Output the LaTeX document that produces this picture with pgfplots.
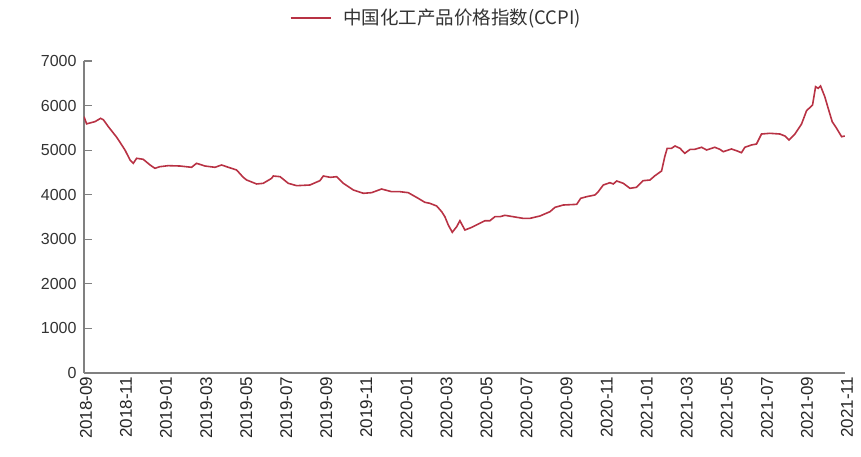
\documentclass[border=0pt]{standalone}
\usepackage{pgfplots}
\pgfplotsset{compat=1.18}
\usepackage{fontspec}
\setmainfont{Liberation Sans}
\newfontfamily\cjk{Noto Sans CJK SC}
\definecolor{ccpi}{RGB}{184,50,68}
\definecolor{axgray}{RGB}{128,128,128}
\begin{document}
\begin{tikzpicture}
\path[use as bounding box] (-84pt,-83pt) rectangle (777pt,373pt);
\begin{axis}[
  at={(0pt,0pt)}, anchor=south west,
  scale only axis,
  width=761pt, height=312pt,
  xmin=0, xmax=38,
  ymin=0, ymax=7000,
  axis x line*=bottom, axis y line*=left,
  axis line style={axgray, line width=1.2pt},
  xtick={0,2,...,38},
  xticklabels={2018-09,2018-11,2019-01,2019-03,2019-05,2019-07,2019-09,2019-11,2020-01,2020-03,2020-05,2020-07,2020-09,2020-11,2021-01,2021-03,2021-05,2021-07,2021-09,2021-11},
  xtick style={draw=none},
  x tick label style={rotate=90, anchor=east, font=\fontsize{17}{20}\selectfont, yshift=-2pt},
  ytick={0,1000,...,7000},
  ytick style={axgray, line width=1.2pt},
  tick align=inside,
  major tick length=8pt,
  y tick label style={font=\fontsize{16}{19}\selectfont, text=black!80, xshift=-4pt},
  xticklabel style={text=black!85},
  /pgf/number format/assume math mode=true,
  /pgf/number format/1000 sep={},
  legend style={at={(axis description cs:0.266,1.138)}, anchor=west, draw=none,
    font=\cjk\fontsize{18.5}{22}\selectfont, text=black!80},
  legend image code/.code={\draw[#1, line width=1.8pt] (0pt,0pt) -- (40pt,0pt);},
  legend cell align=left,
]
\addplot[color=ccpi, line width=1.6pt] coordinates {
(0,5750)(0.13,5590)(0.55,5640)(0.83,5714)(0.97,5680)(1.21,5530)(1.63,5290)(1.88,5120)
(2.05,5000)(2.30,4780)(2.46,4705)(2.63,4817)(2.96,4794)(3.30,4667)(3.54,4593)(3.79,4629)
(4.21,4652)(4.79,4644)(5.37,4615)(5.62,4705)(6.04,4644)(6.54,4615)(6.87,4667)(7.21,4615)
(7.62,4555)(7.95,4391)(8.12,4331)(8.62,4241)(8.95,4256)(9.37,4368)(9.45,4420)(9.79,4405)
(10.20,4256)(10.62,4203)(11.28,4218)(11.78,4315)(11.95,4420)(12.30,4390)(12.62,4405)(12.95,4256)
(13.45,4106)(13.95,4032)(14.36,4046)(14.86,4128)(15.36,4068)(15.78,4068)(16.19,4046)(16.69,3919)
(17.02,3830)(17.27,3807)(17.61,3747)(17.86,3620)(18.02,3507)(18.19,3321)(18.39,3157)(18.61,3283)
(18.77,3417)(19.02,3208)(19.36,3268)(19.69,3343)(20.02,3417)(20.27,3417)(20.52,3507)(20.77,3507)
(21.02,3538)(21.43,3507)(21.93,3470)(22.27,3470)(22.77,3523)(23.27,3620)(23.52,3717)(23.93,3769)
(24.60,3784)(24.80,3919)(25.10,3956)(25.51,3994)(25.68,4068)(25.93,4218)(26.26,4270)(26.43,4241)
(26.60,4308)(26.93,4256)(27.26,4144)(27.59,4166)(27.92,4315)(28.26,4330)(28.51,4427)(28.84,4532)
(29.00,4853)(29.12,5041)(29.34,5041)(29.51,5093)(29.76,5041)(30.00,4929)(30.27,5019)(30.50,5019)
(30.84,5064)(31.09,5004)(31.50,5064)(31.75,5019)(31.92,4966)(32.33,5026)(32.58,4988)(32.83,4943)
(33.00,5064)(33.33,5116)(33.58,5138)(33.83,5362)(34.25,5378)(34.75,5362)(35.00,5317)(35.20,5228)
(35.50,5362)(35.83,5587)(36.08,5885)(36.38,6013)(36.53,6424)(36.66,6387)(36.78,6439)(36.99,6200)
(37.16,5939)(37.36,5639)(37.58,5490)(37.83,5302)(37.99,5317)
};
\addlegendentry{\hspace*{10pt}中国化工产品价格指数(CCPI)}
\end{axis}
\end{tikzpicture}
\end{document}
